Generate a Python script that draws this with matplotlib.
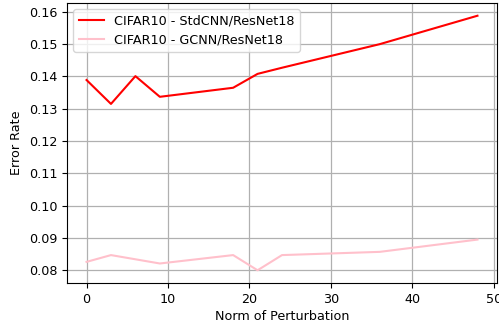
import matplotlib
matplotlib.use("Agg")
import matplotlib.pyplot as plt

norm = [0, 3, 6, 9, 18, 21, 24, 36, 48]
std_err = [0.1389, 0.1315, 0.1401, 0.1337, 0.1365, 0.1408, 0.1427, 0.1500, 0.1588]
gcnn_err = [0.0826, 0.0847, 0.0834, 0.0821, 0.0847, 0.0800, 0.0847, 0.0857, 0.0895]

W, H = 499, 324
fig = plt.figure(figsize=(W / 100, H / 100), dpi=100)
ax = fig.add_axes([67 / W, 1 - 283 / H, (497 - 67) / W, (283 - 3) / H])

ax.plot(norm, std_err, color="red", lw=1.5, label="CIFAR10 - StdCNN/ResNet18")
ax.plot(norm, gcnn_err, color="pink", lw=1.5, label="CIFAR10 - GCNN/ResNet18")

ax.grid(True, color="#b0b0b0", lw=0.9)
ax.set_xlabel("Norm of Perturbation", fontsize=9.2, labelpad=3)
ax.set_ylabel("Error Rate", fontsize=9.2)
ax.tick_params(labelsize=9.2)
ax.set_xticks([0, 10, 20, 30, 40, 50])
ax.set_yticks([0.08, 0.09, 0.10, 0.11, 0.12, 0.13, 0.14, 0.15, 0.16])
ax.yaxis.set_major_formatter(matplotlib.ticker.FormatStrFormatter("%.2f"))
ax.legend(loc="upper left", fontsize=9.2)

fig.savefig("out.png", dpi=100)
